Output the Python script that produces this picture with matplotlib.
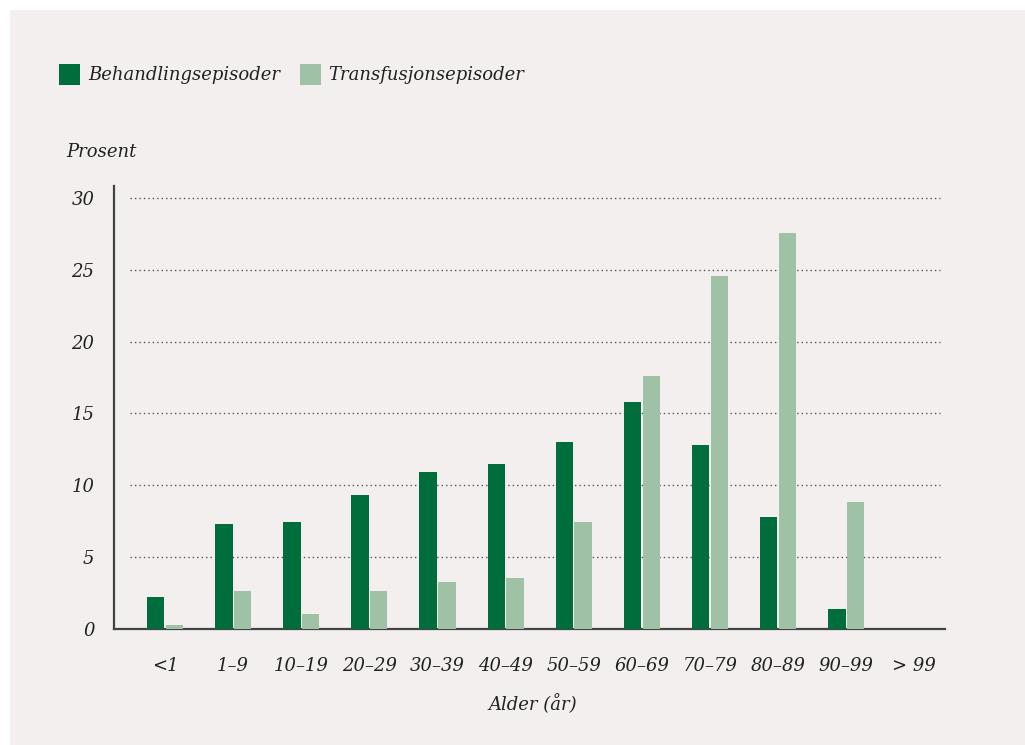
import matplotlib
matplotlib.use("Agg")
import matplotlib.pyplot as plt
from matplotlib.patches import Rectangle
import numpy as np

categories = ["<1", "1–9", "10–19", "20–29", "30–39", "40–49", "50–59",
              "60–69", "70–79", "80–89", "90–99", "> 99"]
behandling = [2.2, 7.3, 7.45, 9.3, 10.9, 11.5, 13.0, 15.8, 12.8, 7.8, 1.4, 0.0]
transfusjon = [0.3, 2.65, 1.05, 2.65, 3.3, 3.55, 7.45, 17.6, 24.6, 27.55, 8.85, 0.0]
yticks = [0, 5, 10, 15, 20, 25, 30]

dark = "#006e3c"
light = "#9fc1a6"
bg = "#f2efee"
txt = "#222222"

plt.rcParams['font.family'] = ['DejaVu Serif']
plt.rcParams['font.style'] = 'italic'

W, H = 1025, 745
fig = plt.figure(figsize=(W / 100, H / 100), dpi=100)
fig.patch.set_facecolor("white")
fig.patches.append(Rectangle((10 / W, 0), 1, 1 - 10 / H, transform=fig.transFigure,
                             facecolor=bg, edgecolor="none", zorder=-10))

left, right = 114 / W, 945 / W
bottom, top = 1 - 629 / H, 1 - 186 / H
ax = fig.add_axes([left, bottom, right - left, top - bottom])
ax.set_facecolor("none")

x = np.arange(len(categories))
bw = 0.255
ax.bar(x - bw / 2 - 0.01, behandling, width=bw, color=dark, zorder=3)
ax.bar(x + bw / 2 + 0.01, transfusjon, width=bw, color=light, zorder=3)

ax.set_xlim(-0.75, 11.45)
ax.set_ylim(0, 30.83)

for spine in ["top", "right"]:
    ax.spines[spine].set_visible(False)
for spine in ["left", "bottom"]:
    ax.spines[spine].set_color("#444444")
    ax.spines[spine].set_linewidth(1.6)

for t in yticks[1:]:
    ax.axhline(t, xmin=16 / 831, xmax=826 / 831, color="#555555",
               linestyle=(0, (1, 2.2)), linewidth=1.0, zorder=1)

ax.set_yticks(yticks)
ax.set_yticklabels([str(t) for t in yticks], fontsize=13, color=txt, style='italic')
ax.set_xticks(x)
ax.set_xticklabels(categories, fontsize=13, color=txt, style='italic')
ax.tick_params(axis="both", length=0)
ax.tick_params(axis="y", pad=14)
ax.tick_params(axis="x", pad=20)

fig.text(66 / W, 1 - 152 / H, "Prosent", fontsize=13, color=txt, style='italic',
         ha="left", va="center")
fig.text(533 / W, 1 - 704 / H, "Alder (år)", fontsize=13, color=txt, style='italic',
         ha="center", va="center")

# legend
fig.patches.append(Rectangle((59 / W, 1 - 85 / H), 21 / W, 21 / H, transform=fig.transFigure,
                             facecolor=dark, edgecolor="none"))
fig.text(88 / W, 1 - 75 / H, "Behandlingsepisoder", fontsize=13, color=txt, style='italic',
         ha="left", va="center")
fig.patches.append(Rectangle((300 / W, 1 - 85 / H), 21 / W, 21 / H, transform=fig.transFigure,
                             facecolor=light, edgecolor="none"))
fig.text(328 / W, 1 - 75 / H, "Transfusjonsepisoder", fontsize=13, color=txt, style='italic',
         ha="left", va="center")

fig.savefig("out.png", dpi=100, facecolor=fig.get_facecolor())
